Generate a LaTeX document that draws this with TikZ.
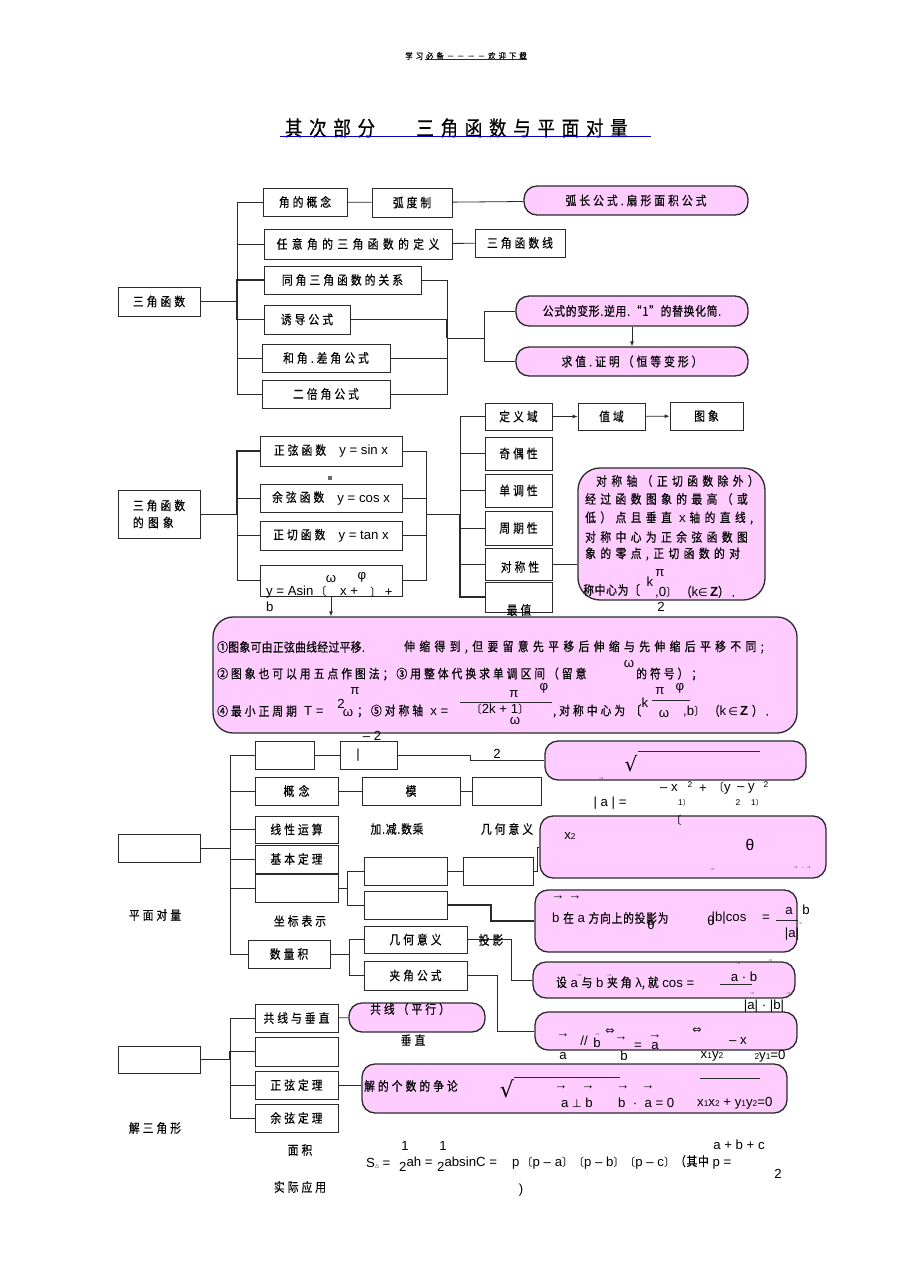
\documentclass[tikz,border=0pt]{standalone}
\usepackage{fontspec}
\setmainfont{Liberation Sans}[Scale=1.2]
\newfontfamily\cn[Scale=1.15,FakeStretch=0.85,FakeBold=0.4,LetterSpace=24]{Noto Sans CJK SC}
\newfontfamily\cnw[Scale=1.15,FakeStretch=0.85,FakeBold=0.4,LetterSpace=35]{Noto Sans CJK SC}
\newfontfamily\cnm[Scale=1.15,FakeStretch=0.85,FakeBold=0.4,LetterSpace=6]{Noto Sans CJK SC}
\newfontfamily\cnn[Scale=1.15,FakeStretch=0.85,FakeBold=0.4,LetterSpace=3]{Noto Sans CJK SC}
\newfontfamily\cnt[Scale=1.15,FakeStretch=0.85,FakeBold=0.5,LetterSpace=32]{Noto Sans CJK SC}
\newfontfamily\cnplain{Noto Sans CJK SC}
\newfontfamily\sym{DejaVu Sans}
\usetikzlibrary{arrows.meta}
\definecolor{pk}{HTML}{FFCCFF}
\definecolor{bd}{HTML}{2A2A2A}
\newcommand\LBk{{\cnplain 〔}}
\newcommand\RBk{{\cnplain 〕}}
\newcommand\bx[6]{\node[box,minimum width=#4pt,minimum height=#5pt] (#1) at (#2,#3) {#6};}
\newcommand\pb[6]{\node[pbox,minimum width=#4pt,minimum height=#5pt] (#1) at (#2,#3) {#6};}
\begin{document}
\begin{tikzpicture}[x=1pt,y=-1pt,
  every node/.style={inner sep=0pt,font=\fontsize{11}{13}\selectfont},
  box/.style={draw=bd,line width=0.8pt},
  pbox/.style={draw=bd,fill=pk,line width=1.3pt,rounded corners=13pt},
  ln/.style={draw=bd,line width=0.8pt},
  thk/.style={draw=bd,line width=1.4pt},
  arr/.style={draw=bd,line width=0.8pt,-{Latex[length=5pt,width=4pt]}}]
\useasboundingbox (0,0) rectangle (920,1274);

% header and title
\node (hd) at (466,56) {\fontsize{7.5}{9}\selectfont\cnw 学习必备－－－－欢迎下载};
\draw[bd,line width=0.5pt] (425,59) -- (527,59);
\node (ti1) at (330,128) {\fontsize{18}{20}\selectfont\cnt 其次部分};
\node (ti2) at (522,128) {\fontsize{18}{20}\selectfont\cnt 三角函数与平面对量};
\draw[blue!80!black,line width=0.8pt] (280,136) -- (651,136);

% ---------------- section 1
\bx{s1}{159}{301.5}{82}{29}{\cn 三角函数}
\bx{jiao}{305}{202}{84}{28}{\cn 角的概念}
\bx{hu}{412}{202.5}{80}{29}{\cn 弧度制}
\pb{p1}{636}{200.5}{224}{29}{\cn 弧长公式.扇形面积公式}
\bx{ren}{358}{244}{188}{30}{\cnw 任意角的三角函数的定义}
\bx{xian}{520}{243}{90}{28}{\cn 三角函数线}
\bx{tong}{342.5}{280}{157}{28}{\cn 同角三角函数的关系}
\bx{you}{307}{319.5}{86}{29}{\cn 诱导公式}
\bx{he}{326}{358}{128}{28}{\cn 和角.差角公式}
\bx{er}{326}{394}{128}{28}{\cn 二倍角公式}
\pb{p2}{632}{311}{232}{30}{\cnm 公式的变形.逆用.“1”的替换化简.}
\pb{p3}{632}{361.5}{232}{29}{\cn 求值.证明（恒等变形）}

\coordinate (t1) at (237,301.5);
\draw[ln] (s1.east) -- (t1);
\foreach \n in {jiao,ren,he,er} \draw[ln] (t1) |- (\n.west);
\foreach \n in {tong,you} \draw[thk] (t1) |- (\n.west);
\draw[ln] (jiao) -- (hu);
\draw[ln] (hu) -- (p1);
\draw[ln] (ren) -- (xian);
\coordinate (r1) at (447,338);
\foreach \n in {tong,he,er} \draw[ln] (\n.east) -| (r1);
\draw[thk] (you.east) -| (r1);
\coordinate (r2) at (484,338);
\draw[ln] (r1) -- (r2);
\draw[ln] (r2) |- (p2.west);
\draw[ln] (r2) |- (p3.west);
\draw[arr] (p2) -- (p3);

% ---------------- section 2
\node[box,minimum width=82pt,minimum height=48pt,align=left,font=\fontsize{11}{17}\selectfont\cn] (s2) at (159,514) {三角函数\\的\,\,图\,\,象};
\bx{sin}{331}{451}{142}{30}{{\cn 正弦函数}\quad y = sin x}
\bx{cos}{331}{498}{142}{28}{{\cn 余弦函数}\quad y = cos x}
\bx{tan}{331}{535.5}{142}{29}{{\cn 正切函数}\quad y = tan x}
\bx{asin}{331}{580.5}{142}{31}{}
\node[fill=bd!70,minimum size=4pt] (sq) at (330,478) {};
\coordinate (t2) at (237,514);
\draw[ln] (s2.east) -- (t2);
\draw[thk] (t2) |- (sin.west);
\foreach \n in {cos,tan,asin} \draw[ln] (t2) |- (\n.west);
\coordinate (t2r) at (426,514);
\foreach \n in {sin,cos,tan,asin} \draw[ln] (\n.east) -| (t2r);
\coordinate (t2c) at (460,514);
\draw[ln] (t2r) -- (t2c);

\bx{dy}{518.5}{416.5}{67}{27}{\cn 定义域}
\bx{zy}{611.5}{416.5}{67}{27}{\cn 值域}
\bx{tx}{706.5}{416}{73}{28}{\cn 图象}
\draw[arr] (dy) -- (zy);
\draw[arr] (zy) -- (tx);
\bx{jo}{518.5}{453.5}{67}{33}{\cn 奇偶性}
\bx{dd}{518.5}{490.5}{67}{33}{\cn 单调性}
\bx{zq}{518.5}{528}{67}{34}{\cn 周期性}
\bx{dc}{518.5}{564}{67}{32}{}
\bx{zz}{518.5}{597}{67}{30}{}
\node (dct) at (520,567) {\cn 对称性};
\foreach \n in {dy,jo,dd,zq,dc} \draw[ln] (t2c) |- (\n.west);
\draw[thk] (t2c) |- (zz.west);

\node[pbox,rounded corners=22pt,minimum width=187pt,minimum height=132pt] (p4) at (671.5,534) {};
\draw[ln] (dc.east) -- (dc.east -| p4.west);
\node[anchor=west] (q1) at (596,481) {\cnw 对称轴（正切函数除外）};
\node[anchor=west] (q2) at (585,499) {\cnw 经过函数图象的最高（或};
\node[anchor=west] (q3) at (585,518) {{\cnw 低）点且垂直}\ \ x {\cnw 轴的直线,}};
\node[anchor=west] (q4) at (585,537) {\cnw 对称中心为正余弦函数图};
\node[anchor=west] (q5) at (585,554) {\cnw 象的零点,正切函数的对};
\node[anchor=west] (q6) at (583,590) {\cnm 称中心为〔};
\node (q7) at (650,582) {k};
\node (q8) at (660,573) {π};
\node[anchor=west] (q9) at (655,592) {,0\RBk\ {\cn （}k{\sym ∈}\,\textbf{Z}{\cn ）.}};
\node (q10) at (661,607) {2};

% asin text
\node[anchor=west] (y1) at (266,592) {y = Asin\,\LBk};
\node (y2) at (331,579) {ω};
\node (y3) at (362,577) {φ};
\node[anchor=west] (y4) at (340,592) {x +};
\node[anchor=west] (y5) at (370,592) {\RBk\ +};
\node[anchor=west] (y6) at (266,607) {b};
\node (zzt) at (519,610) {\cn 最值};

% big pink box
\node[pbox,rounded corners=20pt,minimum width=584pt,minimum height=116pt] (pb) at (505,675) {};
\draw[arr] (asin.south) -- (asin.south |- pb.north);
\node[anchor=west] (b1a) at (217,647) {\cnn ①图象可由正弦曲线经过平移.};
\node[anchor=west] (b1b) at (404,647) {\cnw 伸缩得到,但要留意先平移后伸缩与先伸缩后平移不同;};
\node[anchor=west] (b2a) at (217,674) {\cn ②图象也可以用五点作图法；③用整体代换求单调区间（留意};
\node (b2b) at (629,664) {ω};
\node[anchor=west] (b2c) at (636,674) {\cn 的符号）；};
\node[anchor=west] (b3a) at (217,711) {{\cn ④最小正周期}\ \ T =};
\node (b3b) at (341,704) {2};
\node (b3c) at (355,691) {π};
\node (b3d) at (348,713) {ω};
\node[anchor=west] (b3e) at (357,711) {{\cn ；⑤对称轴}\ \ x =};
\draw[bd,line width=0.6pt] (460,702) -- (552,702);
\node (b3f) at (514,694) {π};
\node (b3g) at (544,688) {φ};
\node (b3h) at (500,709) {\LBk 2k + 1\RBk};
\node (b3i) at (515,721) {ω};
\node[anchor=west] (b3j) at (553,711) {\cn ,对称中心为 〔};
\node (b3k) at (645,703) {k};
\node (b3l) at (660,691) {π};
\node (b3m) at (680,688) {φ};
\draw[bd,line width=0.6pt] (652,700) -- (690,700);
\node (b3n) at (664,714) {ω};
\node[anchor=west] (b3o) at (683,711) {,b\RBk\ {\cn （}k\,{\sym ∈}\,\textbf{Z}\ {\cn ）.}};
\node (m2) at (372,736) {– 2};

% ---------------- section 3
\bx{s3}{159}{848}{82}{28}{}
\bx{v1}{284.5}{755}{59}{28}{}
\bx{v1b}{368.5}{755}{57}{28}{}
\node (bar) at (358,755) {|};
\pb{p5}{675.5}{760.5}{261}{39}{}
\bx{gn}{296.5}{791}{83}{28}{{\cnw 概念}\hspace{35pt}}
\bx{mo}{411}{791}{98}{28}{{\cnw 模}\hspace{70pt}}
\bx{e2}{506.5}{791}{69}{28}{}
\bx{xx}{296.5}{829.5}{83}{27}{\cn 线性运算}
\bx{jb}{296.5}{859}{83}{28}{\cn 基本定理}
\bx{zb}{296.5}{888}{83}{28}{}
\bx{e3}{405.5}{871}{83}{28}{}
\bx{e4}{498}{871}{70}{28}{}
\bx{e5}{405.5}{905}{83}{28}{}
\pb{p6}{683}{847}{286}{62}{}
\pb{p7}{666}{921}{262}{62}{}
\bx{slj}{289}{954}{82}{28}{\cn 数量积}
\bx{jh}{415.5}{939.5}{103}{27}{{\cn 几何意义}\hspace{20pt}}
\bx{jj}{415.5}{975.5}{103}{29}{{\cn 夹角公式}\hspace{20pt}}
\pb{p8}{664}{980}{262}{36}{}
\pb{p9}{666}{1031}{262}{38}{}

\coordinate (t3) at (230,848);
\draw[ln] (s3.east) -- (t3);
\foreach \n in {v1,gn,xx,jb,zb,slj} \draw[ln] (t3) |- (\n.west);
\draw[ln] (v1) -- (v1b);
\draw[ln] (v1b.east) -- (470,755) |- (p5.west);
\draw[ln] (gn) -- (mo);
\draw[ln] (mo) -- (e2);
\coordinate (b3) at (347,888);
\draw[ln] (zb.east) -- (b3);
\draw[ln] (b3) |- (e3.west);
\draw[ln] (b3) |- (e5.west);
\draw[ln] (e3) -- (e4);
\draw[ln] (e4.east) -- (537,871) |- (p6.west);
\draw[thk] (e5.east) -- (491,905) |- (p7.west);
\coordinate (b4) at (349,954);
\draw[ln] (slj.east) -- (b4);
\draw[ln] (b4) |- (jh.west);
\draw[ln] (b4) |- (jj.west);
\draw[ln] (jh.east) -- (511,939.5) |- (p8.west);
\draw[ln] (jj.east) -- (497,975.5) |- (p9.west);

% free texts sec 3
\node (n2) at (497,754) {2};
\node (pmdl) at (155,915) {\cn 平面对量};
\node (zbbs) at (300,921) {\cn 坐标表示};
\node (jjsc) at (397,829) {\cnm 加.减.数乘};
\node (jhyy) at (507,829) {\cn 几何意义};
\node (ty) at (491,940) {\cn 投影};

% p5 contents
\node[font=\fontsize{20}{20}\selectfont\sym] (sr1) at (631,764) {√};
\draw[bd,line width=0.7pt] (638,751) -- (760,751);
\node (a1) at (601,779) {\tiny →};
\node (a2) at (669,788) {– x};
\node (a3) at (690,785) {\scriptsize 2};
\node (a4) at (703,789) {+};
\node (a5) at (722,788) {\LBk y};
\node (a6) at (746,788) {– y};
\node (a7) at (766,785) {\scriptsize 2};
\node (a8) at (610,803) {| a | =};
\node (a9) at (684,803) {\scriptsize 1\RBk};
\node (a10) at (738,803) {\scriptsize 2};
\node (a11) at (757,803) {\scriptsize 1\RBk};
\node (a12) at (676,820) {\LBk};

% p6 contents
\node (c1) at (570,836) {x{\scriptsize 2}};
\node (c2) at (750,845) {\fontsize{13}{13}\selectfont θ};
\node (c3) at (712,870) {\tiny →};
\node (c4) at (802,868) {\tiny →\ \ .\ →};

% p7 contents
\node (d1) at (558,898) {→};
\node (d2) at (575,898) {→};
\node[anchor=west] (d3) at (552,918) {b {\cn 在} a {\cnm 方向上的投影为}};
\node (d4) at (651,925) {θ};
\node (d5) at (729,918) {|b|cos};
\node (d6) at (711,921) {θ};
\node (d7) at (766,918) {=};
\node (d8) at (789,911) {a};
\draw[bd,line width=0.6pt] (776,920) -- (798,920);
\node (d9) at (792,934) {|a|};
\node (d10) at (800,924) {\tiny →};
\node (d11) at (806,910) {b};

% p8 contents
\node[anchor=west] (f1) at (556,983) {{\cn 设} a {\cn 与} b {\cn 夹角} λ{\cn ,就} cos\ =};
\node (f0a) at (579,976) {\tiny →};
\node (f0b) at (609,976) {\tiny →};
\node (f2) at (744,977) {a · b};
\node (f3) at (738,964) {\tiny →};
\node (f4) at (770,961) {\tiny →};
\draw[bd,line width=0.6pt] (720,984) -- (752,984);
\node (f5) at (752,994) {\tiny →};
\node (f6) at (788,994) {\tiny →};
\node (f7) at (764,1006) {|a| · |b|};

% p9 contents
\node (g3) at (563,1036) {→};
\node (g4) at (563,1056) {a};
\node (g5) at (584,1041) {//};
\node (g6) at (597,1043) {b};
\node (g6a) at (597,1035) {\tiny →};
\node (g7) at (610,1032) {\sym ⇔};
\node (g8) at (621,1039) {→};
\node (g9) at (638,1046) {=};
\node (g10) at (655,1037) {→};
\node (g11) at (655,1046) {a};
\node (g12) at (624,1056) {b};
\node (g13) at (697,1031) {\sym ⇔};
\node (g14) at (738,1041) {– x};
\node (g15) at (712,1056) {x{\scriptsize 1}y{\scriptsize 2}};
\node (g16) at (770,1056) {{\scriptsize 2}y{\scriptsize 1}=0};

% ---------------- section 4
\bx{s4}{159}{1059.5}{82}{27}{}
\bx{gx}{296.5}{1018}{83}{28}{\cn 共线与垂直}
\bx{e6}{296.5}{1051.5}{83}{29}{}
\bx{zx}{296.5}{1085}{83}{28}{\cn 正弦定理}
\bx{yx}{296.5}{1118}{83}{28}{\cn 余弦定理}
\pb{p10}{417}{1017.5}{136}{29}{}
\pb{p11}{574.5}{1088.5}{425}{49}{}
\coordinate (t4) at (230,1059.5);
\draw[ln] (s4.east) -- (t4);
\foreach \n in {gx,zx,yx} \draw[ln] (t4) |- (\n.west);
\draw[thk] (t4) |- (e6.west);
\draw[ln] (gx) -- (p10);
\draw[ln] (zx.east) -- (zx.east -| p11.west);

\node (k10) at (410,1009) {\cn 共线（平行）};
\node (k11) at (413,1040) {\cn 垂直};
\node (jsjx) at (155,1128) {\cn 解三角形};
\node (mj) at (300,1150) {\cn 面积};
\node (sjyy) at (300,1187) {\cn 实际应用};

% p11 contents
\node[anchor=west] (h1) at (364,1086) {\cn 解的个数的争论};
\node[font=\fontsize{22}{22}\selectfont\sym] (h2) at (507,1089) {√};
\draw[bd,line width=0.7pt] (514,1077) -- (620,1077);
\node (h3) at (561,1088) {→};
\node (h4) at (588,1088) {→};
\node (h5) at (623,1088) {→};
\node (h6) at (648,1088) {→};
\node (h7) at (577,1103) {a {\sym ⊥} b};
\node[anchor=west] (h8) at (618,1103) {b\ \ ·\ \ a = 0};
\draw[bd,line width=0.7pt] (700,1078) -- (760,1078);
\node[anchor=west] (h9) at (697,1103) {x{\scriptsize 1}x{\scriptsize 2} + y{\scriptsize 1}y{\scriptsize 2}=0};

% area formula
\node[anchor=west] (k1) at (366,1163) {S{\sym\tiny △} =};
\node (k2) at (405,1146) {1};
\node[anchor=west] (k3) at (399,1164) {\raisebox{-5pt}{2}ah =};
\node (k4) at (443,1146) {1};
\node[anchor=west] (k5) at (437,1164) {\raisebox{-5pt}{2}absinC =};
\node[anchor=west] (k6) at (512,1162) {p\,\LBk p – a\RBk\LBk p – b\RBk\LBk p – c\RBk{\cnm （其中}\ p =};
\node (k7) at (739,1145) {a + b + c};
\node (k8) at (778,1174) {2};
\node (k9) at (521,1190) {)};
\end{tikzpicture}
\end{document}
